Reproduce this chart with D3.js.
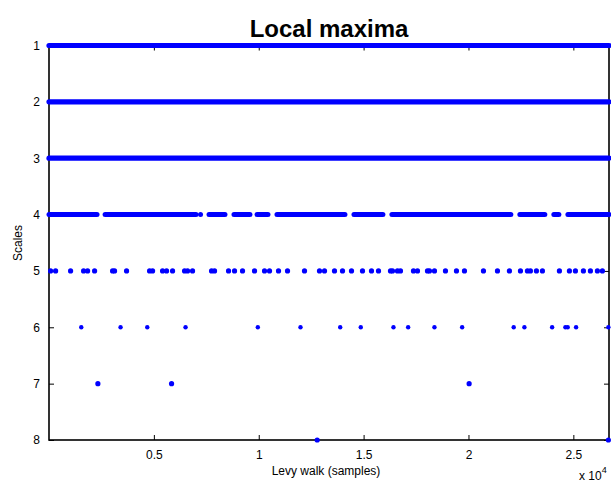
<!DOCTYPE html>
<html>
<head>
<meta charset="utf-8">
<script src="https://cdn.jsdelivr.net/npm/d3@7"></script>
<style>
  html, body { margin: 0; padding: 0; background: #fff; }
  svg { display: block; font-family: "Liberation Sans", Arial, Helvetica, sans-serif; }
</style>
</head>
<body>
<svg id="chart" width="611" height="484"></svg>
<script>
// Local maxima of a Levy walk, per analysis scale (sample index of each maximum)
const scales = [1, 2, 3, 4, 5, 6, 7, 8];
const nSamples = 26700;
const xTicks = [5000, 10000, 15000, 20000, 25000];
const xTickLabels = ["0.5", "1", "1.5", "2", "2.5"];

// Scales 1-4 have maxima so dense they form continuous runs: [first sample, last sample]
const runsScale1 = [[0, 26700]];
const runsScale2 = [[0, 26700]];
const runsScale3 = [[0, 26700]];
const runsScale4 = [
  [0, 2290], [2675, 7010], [7225, 7225], [7630, 8390], [8820, 9580],
  [9920, 10440], [10870, 14110], [14540, 15920], [16350, 22020],
  [22450, 23640], [24070, 24310], [24740, 26700]
];

// Coarser scales: individual maxima
const maxScale5 = [76, 315, 1029, 1649, 1840, 2173, 3031, 3126, 3698, 4795, 4938,
  5414, 5605, 5891, 6463, 6606, 6844, 7750, 7893, 8560, 8846, 9227, 9799, 10276,
  10514, 10943, 11372, 12182, 12897, 13136, 13612, 13994, 14423, 14947, 15376,
  15710, 16282, 16377, 16615, 16758, 17378, 17569, 18045, 18140, 18379, 18903,
  19427, 19809, 20714, 21382, 21953, 22478, 22811, 22954, 23240, 23526, 24336,
  24813, 25099, 25480, 25814, 26147, 26385];
const maxScale6 = [1539, 3412, 4685, 6510, 9956, 11991, 13884, 14865, 16424, 17124,
  18378, 19698, 22157, 22667, 23988, 24621, 24731, 25131, 26670];
const maxScale7 = [2331, 5843, 20031];
const maxScale8 = [12787, 26670];

const runs = [
  { scale: 1, runs: runsScale1 }, { scale: 2, runs: runsScale2 },
  { scale: 3, runs: runsScale3 }, { scale: 4, runs: runsScale4 }
];
const points = [
  { scale: 5, xs: maxScale5 }, { scale: 6, xs: maxScale6 },
  { scale: 7, xs: maxScale7 }, { scale: 8, xs: maxScale8 }
];

const blue = "#0000ff";
const svg = d3.select("#chart");
const plotLeft = 49, plotRight = 609, plotTop = 45.5, plotBottom = 440;

const x = d3.scaleLinear().domain([0, nSamples]).range([plotLeft, plotRight]);
const y = d3.scaleLinear().domain([1, 8]).range([plotTop, plotBottom]);

// Axes box with inward ticks on all four sides
const tickLen = 5;
const gBottom = svg.append("g").attr("transform", `translate(0,${plotBottom})`)
  .call(d3.axisBottom(x).tickValues(xTicks).tickSizeInner(-tickLen).tickSizeOuter(0)
    .tickPadding(10).tickFormat((d, i) => xTickLabels[i]));
const gTop = svg.append("g").attr("transform", `translate(0,${plotTop})`)
  .call(d3.axisTop(x).tickValues(xTicks).tickSizeInner(-tickLen).tickSizeOuter(0).tickFormat(""));
const gLeft = svg.append("g").attr("transform", `translate(${plotLeft},0)`)
  .call(d3.axisLeft(y).tickValues(scales).tickSizeInner(-tickLen).tickSizeOuter(0)
    .tickPadding(9).tickFormat(d3.format("d")));
const gRight = svg.append("g").attr("transform", `translate(${plotRight},0)`)
  .call(d3.axisRight(y).tickValues(scales).tickSizeInner(-tickLen).tickSizeOuter(0).tickFormat(""));

[gBottom, gTop, gLeft, gRight].forEach(g => {
  g.select(".domain").remove();
  g.selectAll(".tick line").attr("stroke", "#000").attr("stroke-width", 1);
  g.selectAll(".tick text").attr("fill", "#000").attr("font-size", 12)
    .attr("font-family", "Liberation Sans, Arial, sans-serif");
});

svg.append("rect")
  .attr("x", plotLeft).attr("y", plotTop)
  .attr("width", plotRight - plotLeft).attr("height", plotBottom - plotTop)
  .attr("fill", "none").attr("stroke", "#000").attr("stroke-width", 1.6);

// Dense maxima runs drawn as thick rounded strokes
svg.append("g").selectAll("g").data(runs).join("g")
  .each(function(r) {
    d3.select(this).selectAll("line").data(r.runs).join("line")
      .attr("x1", d => x(d[0])).attr("x2", d => x(d[1]))
      .attr("y1", y(r.scale)).attr("y2", y(r.scale))
      .attr("stroke", blue).attr("stroke-width", r.scale === 4 ? 5 : 5.2)
      .attr("stroke-linecap", "round");
  });

// Isolated maxima as dots
svg.append("g").selectAll("g").data(points).join("g")
  .each(function(p) {
    d3.select(this).selectAll("circle").data(p.xs).join("circle")
      .attr("cx", d => x(d)).attr("cy", y(p.scale))
      .attr("r", p.scale === 6 ? 2.2 : 2.6)
      .attr("fill", blue);
  });

// Title and axis labels
svg.append("text").attr("x", 329).attr("y", 37).attr("text-anchor", "middle")
  .attr("font-size", 24).attr("font-weight", "bold").attr("fill", "#000")
  .text("Local maxima");

svg.append("text").attr("x", 326).attr("y", 475).attr("text-anchor", "middle")
  .attr("font-size", 12).attr("fill", "#000")
  .text("Levy walk (samples)");

svg.append("text").attr("transform", "translate(22,243) rotate(-90)")
  .attr("text-anchor", "middle").attr("font-size", 12).attr("fill", "#000")
  .text("Scales");

const expo = svg.append("text").attr("x", 579).attr("y", 480)
  .attr("font-size", 12).attr("fill", "#000");
expo.append("tspan").text("x 10");
expo.append("tspan").attr("dy", -7).attr("font-size", 9).text("4");
</script>
</body>
</html>
